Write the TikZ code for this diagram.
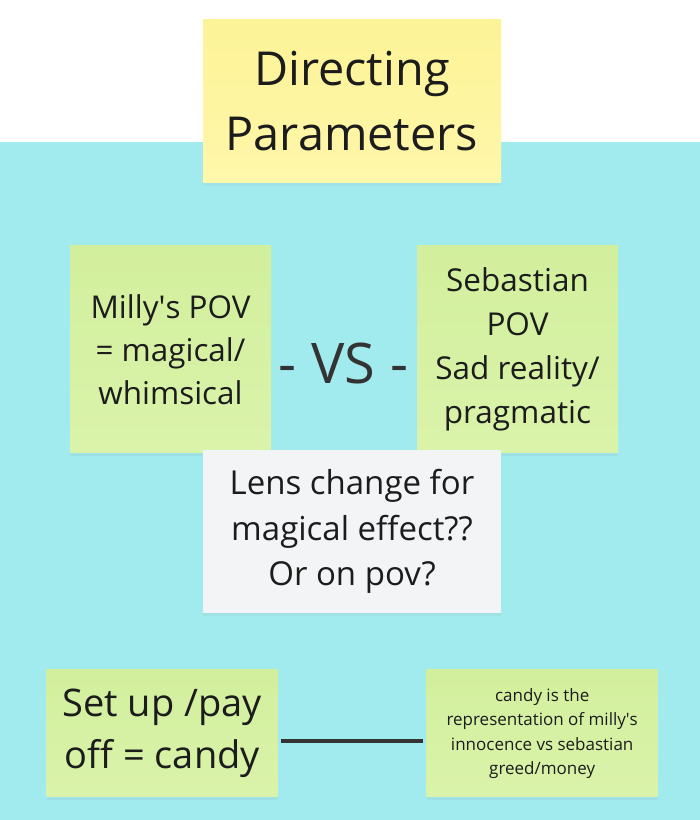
\documentclass[tikz,border=0pt]{standalone}
\usepackage{fontspec}
\setmainfont{Open Sans}
\usepackage{tikz}
\usetikzlibrary{positioning, shadows}
\definecolor{boardcyan}{RGB}{161, 235, 238}
\definecolor{yellowtop}{RGB}{252, 243, 151}
\definecolor{yellowbot}{RGB}{255, 247, 170}
\definecolor{greentop}{RGB}{210, 239, 157}
\definecolor{greenbot}{RGB}{218, 243, 170}
\definecolor{notegrey}{RGB}{243, 244, 246}
\definecolor{inkdark}{RGB}{28, 28, 28}
\definecolor{linedark}{RGB}{51, 51, 51}

\tikzset{
    note/.style={inner sep=0pt, align=center, text=inkdark,
        drop shadow={shadow xshift=0pt, shadow yshift=-3pt, opacity=0.08}},
    yellownote/.style={note, top color=yellowtop, bottom color=yellowbot},
    greennote/.style={note, top color=greentop, bottom color=greenbot},
    greynote/.style={note, fill=notegrey},
}

\begin{document}
\begin{tikzpicture}[x=1pt, y=1pt]
    \useasboundingbox (0,0) rectangle (700,820);
    % Board
    \fill[white] (0,0) rectangle (700,820);
    \fill[boardcyan] (0,0) rectangle (700,678);
    % Title
    \node[yellownote, minimum width=298pt, minimum height=163pt,
        font=\fontsize{46.8}{65}\selectfont] (title) at (352,718.5) {Directing\\Parameters};
    % Two points of view
    \node[greennote, minimum width=201pt, minimum height=207pt,
        font=\fontsize{31.4}{43}\selectfont] (milly) at (170.5,470.5)
        {Milly\textquotesingle s POV\\= magical/\\whimsical};
    \node[greennote, minimum width=201pt, minimum height=207pt,
        font=\fontsize{31.5}{44}\selectfont] (sebastian) at (517.5,470.5)
        {Sebastian\\POV\\Sad reality/\\pragmatic};
    \node[text=linedark, inner sep=0pt, font=\fontsize{56}{60}\selectfont] (vs) at (343.5,456.7) {- VS -};
    % Question
    \node[greynote, minimum width=298pt, minimum height=163pt,
        font=\fontsize{33}{45.5}\selectfont] (lens) at (352,288.5)
        {Lens change for\\magical effect??\\Or on pov?};
    % Set up / pay off
    \node[greennote, minimum width=231pt, minimum height=127pt,
        font=\fontsize{38}{52}\selectfont] (setup) at (162.2,86.5) {Set up /pay\\off = candy};
    \node[greennote, minimum width=231pt, minimum height=127pt,
        font=\fontsize{17}{24.6}\selectfont] (candy) at (542.2,86.5)
        {candy is the\\representation of milly\textquotesingle s\\innocence vs sebastian\\greed/money};
    \draw[linedark, line width=4pt, shorten <=3.5pt, shorten >=3.5pt]
        ([yshift=-7.5pt]setup.east) -- ([yshift=-7.5pt]candy.west);
\end{tikzpicture}
\end{document}
